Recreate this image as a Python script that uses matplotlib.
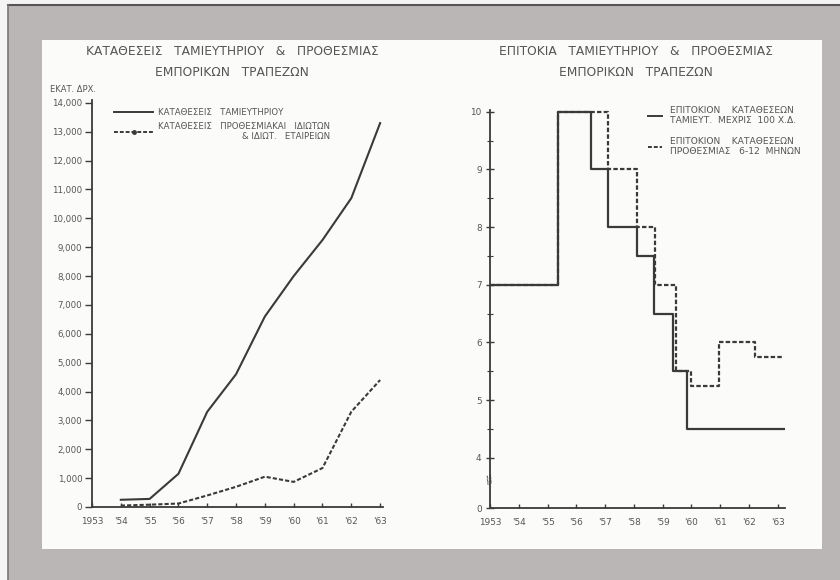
import matplotlib
matplotlib.use('Agg')
import matplotlib.pyplot as plt
from matplotlib.lines import Line2D
from matplotlib.patches import Rectangle

plt.rcParams['font.family'] = ['DejaVu Sans']

# ---------------- data ----------------
tick_years = [1953, 1954, 1955, 1956, 1957, 1958, 1959, 1960, 1961, 1962, 1963]
year_labels = ["1953", "'54", "'55", "'56", "'57", "'58", "'59", "'60", "'61", "'62", "'63"]

dep_years = [1954, 1955, 1956, 1957, 1958, 1959, 1960, 1961, 1962, 1963]
savings_deposits = [250, 280, 1150, 3300, 4600, 6600, 8000, 9250, 10700, 13300]
time_deposits = [50, 80, 120, 400, 700, 1050, 870, 1350, 3300, 4400]

dep_ticks = [0, 1000, 2000, 3000, 4000, 5000, 6000, 7000, 8000, 9000, 10000, 11000, 12000, 13000, 14000]
dep_tick_labels = ["0", "1,000", "2,000", "3,000", "4,000", "5,000", "6,000", "7,000", "8,000",
                   "9,000", "10,000", "11,000", "12,000", "13,000", "14,000"]

savings_rate_dates = [1953.0, 1955.35, 1956.5, 1957.1, 1958.1, 1958.7, 1959.35, 1959.85, 1963.2]
savings_rate = [7, 10, 9, 8, 7.5, 6.5, 5.5, 4.5, 4.5]
time_rate_dates = [1953.0, 1955.35, 1957.1, 1958.1, 1958.75, 1959.45, 1960.0, 1960.95, 1962.2, 1963.15]
time_rate = [7, 10, 9, 8, 7, 5.5, 5.25, 6, 5.75, 5.75]

rate_ticks = [3.13, 4, 5, 6, 7, 8, 9, 10]
rate_tick_labels = ["0", "4", "5", "6", "7", "8", "9", "10"]
rate_minor = [4.5, 5.5, 6.5, 7.5, 8.5, 9.5]

left_title = "ΚΑΤΑΘΕΣΕΙΣ   ΤΑΜΙΕΥΤΗΡΙΟΥ   &   ΠΡΟΘΕΣΜΙΑΣ\nΕΜΠΟΡΙΚΩΝ   ΤΡΑΠΕΖΩΝ"
right_title = "ΕΠΙΤΟΚΙΑ   ΤΑΜΙΕΥΤΗΡΙΟΥ   &   ΠΡΟΘΕΣΜΙΑΣ\nΕΜΠΟΡΙΚΩΝ   ΤΡΑΠΕΖΩΝ"
unit_label = "ΕΚΑΤ. ΔΡΧ."
left_labels = ["ΚΑΤΑΘΕΣΕΙΣ   ΤΑΜΙΕΥΤΗΡΙΟΥ",
               "ΚΑΤΑΘΕΣΕΙΣ   ΠΡΟΘΕΣΜΙΑΚΑΙ   ΙΔΙΩΤΩΝ\n& ΙΔΙΩΤ.   ΕΤΑΙΡΕΙΩΝ"]
right_labels = ["ΕΠΙΤΟΚΙΟΝ    ΚΑΤΑΘΕΣΕΩΝ\nΤΑΜΙΕΥΤ.  ΜΕΧΡΙΣ  100 Χ.Δ.",
                "ΕΠΙΤΟΚΙΟΝ    ΚΑΤΑΘΕΣΕΩΝ\nΠΡΟΘΕΣΜΙΑΣ   6-12  ΜΗΝΩΝ"]

# ---------------- style ----------------
W, H = 840, 580
def fx(px):
    return px / W
def fy(py):
    return 1 - py / H

INK = '#3a3a3a'
TXT = '#555555'
DASH = (2.0, 1.0)

fig = plt.figure(figsize=(8.4, 5.8), dpi=100, facecolor='#bab6b6')
# scanned page frame
fig.patches.append(Rectangle((0, fy(5)), 1, 5 / H, transform=fig.transFigure,
                             facecolor='#f4f4f4', edgecolor='none', zorder=-10))
fig.patches.append(Rectangle((0, 0), 8 / W, 1, transform=fig.transFigure,
                             facecolor='#f4f4f4', edgecolor='none', zorder=-10))
fig.lines.append(Line2D([fx(8), 1], [fy(5), fy(5)], transform=fig.transFigure,
                        color='#555555', lw=1.5, zorder=-9))
fig.lines.append(Line2D([fx(8), fx(8)], [0, fy(5)], transform=fig.transFigure,
                        color='#777777', lw=1.2, zorder=-9))
fig.patches.append(Rectangle((fx(42), fy(549)), fx(822) - fx(42), fy(40) - fy(549),
                             transform=fig.transFigure, facecolor='#fbfbf9',
                             edgecolor='none', zorder=-10))

# ---------------- left chart ----------------
ax1 = fig.add_axes([fx(92), fy(507), fx(383) - fx(92), fy(100) - fy(507)])
ax1.set_facecolor('none')
ax1.plot(dep_years, savings_deposits, color=INK, lw=1.5, solid_joinstyle='round')
ax1.plot(dep_years, time_deposits, color=INK, lw=1.5, dashes=DASH)
ax1.set_xlim(1953, 1963.1)
ax1.set_ylim(0, 14100)
ax1.set_xticks(tick_years)
ax1.set_xticklabels(year_labels)
ax1.set_yticks(dep_ticks)
ax1.set_yticklabels(dep_tick_labels)
for s in ['top', 'right']:
    ax1.spines[s].set_visible(False)
for s in ['left', 'bottom']:
    ax1.spines[s].set_color(INK)
    ax1.spines[s].set_linewidth(1.3)
ax1.tick_params(axis='x', direction='in', length=3, width=1, color=INK,
                labelsize=6.4, labelcolor=TXT, pad=7)
ax1.tick_params(axis='y', direction='out', length=5, width=1, color=INK,
                labelsize=6.2, labelcolor=TXT, pad=2)
fig.text(fx(232), fy(62), left_title, ha='center', va='center', fontsize=8.8,
         color=TXT, linespacing=1.75)
fig.text(fx(50), fy(89), unit_label, ha='left', va='center', fontsize=6, color=TXT)

h1 = [Line2D([], [], color=INK, lw=1.4),
      Line2D([], [], color=INK, lw=1.4, dashes=DASH, marker='o', markersize=2.5,
             markevery=[1])]
leg1 = ax1.legend(h1, left_labels, loc='upper left', bbox_to_anchor=(fx(110), fy(104)),
                  bbox_transform=fig.transFigure, frameon=False, fontsize=6.2,
                  handlelength=4.5, handletextpad=0.6, labelspacing=0.5,
                  borderpad=0, labelcolor=TXT)
for t in leg1.get_texts():
    t.set_multialignment('right')

# ---------------- right chart ----------------
ax2 = fig.add_axes([fx(490), fy(508), fx(785) - fx(490), fy(110) - fy(508)])
ax2.set_facecolor('none')
ax2.step(savings_rate_dates, savings_rate, where='post', color=INK, lw=1.6)
ax2.step(time_rate_dates, time_rate, where='post', color=INK, lw=1.6, dashes=DASH)
ax2.set_xlim(1953, 1963.25)
ax2.set_ylim(3.13, 10.03)
ax2.set_xticks(tick_years)
ax2.set_xticklabels(year_labels)
ax2.set_yticks(rate_ticks)
ax2.set_yticklabels(rate_tick_labels)
ax2.set_yticks(rate_minor, minor=True)
for s in ['top', 'right']:
    ax2.spines[s].set_visible(False)
for s in ['left', 'bottom']:
    ax2.spines[s].set_color(INK)
    ax2.spines[s].set_linewidth(1.3)
ax2.tick_params(axis='x', direction='in', length=3, width=1, color=INK,
                labelsize=6.4, labelcolor=TXT, pad=7)
ax2.tick_params(axis='y', which='major', direction='inout', length=6, width=1,
                color=INK, labelsize=6.4, labelcolor=TXT, pad=3)
ax2.tick_params(axis='y', which='minor', direction='inout', length=4, width=0.8,
                color=INK)
# axis break mark
ax2.text(0, 3.62, '//', transform=ax2.get_yaxis_transform(), ha='center',
         va='center', fontsize=7, color=INK, rotation=20)
fig.text(fx(636), fy(62), right_title, ha='center', va='center', fontsize=8.8,
         color=TXT, linespacing=1.75)

h2 = [Line2D([], [], color=INK, lw=1.4),
      Line2D([], [], color=INK, lw=1.4, dashes=DASH)]
ax2.legend(h2, right_labels, loc='upper left', bbox_to_anchor=(fx(643), fy(101)),
           bbox_transform=fig.transFigure, frameon=False, fontsize=6.6,
           handlelength=1.6, handletextpad=0.8, labelspacing=1.3,
           borderpad=0, labelcolor=TXT)

fig.savefig('out.png', dpi=100, facecolor=fig.get_facecolor())
